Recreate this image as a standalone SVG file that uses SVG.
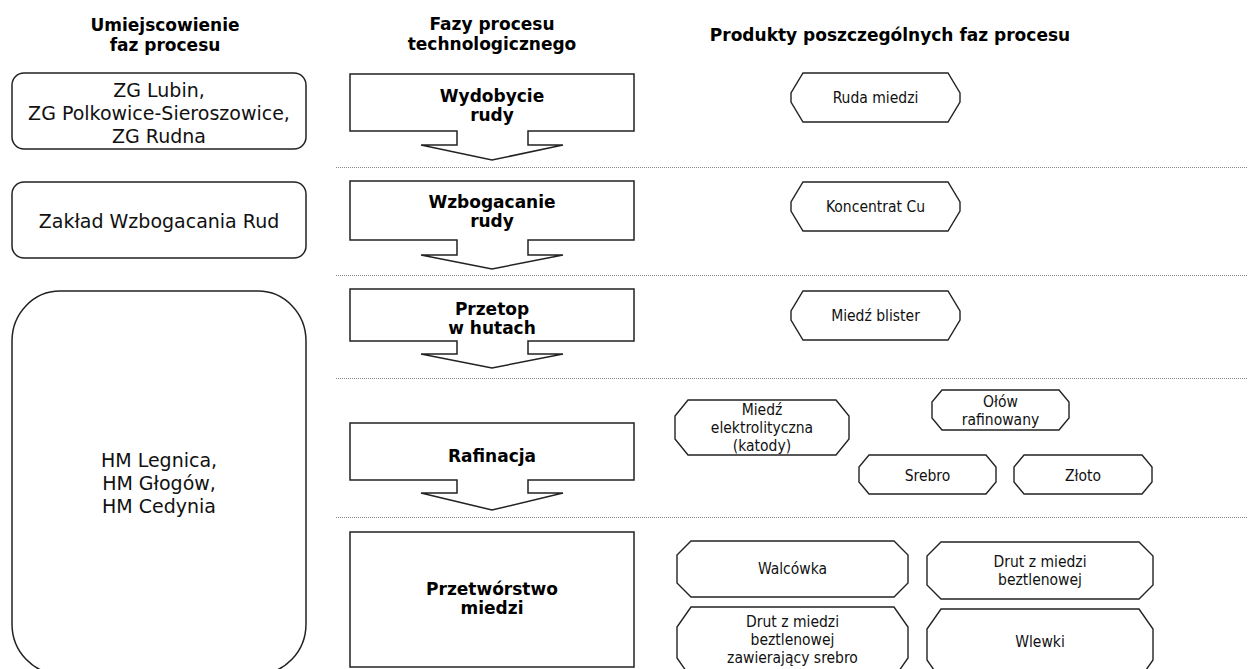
<svg xmlns="http://www.w3.org/2000/svg" width="1248" height="669" viewBox="0 0 1248 669">
<style>
.hdr{font-family:"DejaVu Sans",Verdana,sans-serif;font-weight:bold;font-size:17px;fill:#000;text-anchor:middle}
.loc{font-family:"DejaVu Sans",Verdana,sans-serif;font-size:19px;fill:#111;text-anchor:middle}
.ph{font-family:"DejaVu Sans",Verdana,sans-serif;font-weight:bold;font-size:17px;fill:#000;text-anchor:middle}
.pr{font-family:"DejaVu Sans Condensed","Liberation Sans",sans-serif;font-size:15.5px;fill:#111;text-anchor:middle}
.box{fill:#fff;stroke:#222;stroke-width:1.5}
.oct{fill:#fff;stroke:#222;stroke-width:1.4}
.sep{stroke:#888;stroke-width:1;stroke-dasharray:1 1;fill:none}
</style>
<rect width="1248" height="669" fill="#fff"/>
<g id="headers">
<text class="hdr" x="165" y="31">Umiejscowienie</text>
<text class="hdr" x="165" y="51">faz procesu</text>
<text class="hdr" x="492" y="30">Fazy procesu</text>
<text class="hdr" x="492" y="49.5">technologicznego</text>
<text class="hdr" x="890" y="41">Produkty poszczególnych faz procesu</text>
</g>
<g id="separators">
<line class="sep" x1="336" y1="167.5" x2="1248" y2="167.5"/>
<line class="sep" x1="336" y1="275.5" x2="1248" y2="275.5"/>
<line class="sep" x1="336" y1="378.5" x2="1248" y2="378.5"/>
<line class="sep" x1="336" y1="517.5" x2="1248" y2="517.5"/>
</g>
<g id="loc-zg">
<rect class="box" x="12" y="73" width="294" height="76" rx="12"/>
<text class="loc" x="159" y="97">ZG Lubin,</text>
<text class="loc" x="159" y="120">ZG Polkowice-Sieroszowice,</text>
<text class="loc" x="159" y="143">ZG Rudna</text>
</g>
<g id="loc-zwr">
<rect class="box" x="12" y="182" width="294" height="76" rx="12"/>
<text class="loc" x="159" y="228">Zakład Wzbogacania Rud</text>
</g>
<g id="loc-hm">
<rect class="box" x="12" y="291" width="294" height="383" rx="48" ry="50"/>
<text class="loc" x="159" y="467">HM Legnica,</text>
<text class="loc" x="159" y="490">HM Głogów,</text>
<text class="loc" x="159" y="513">HM Cedynia</text>
</g>
<g id="phase-wydobycie">
<path class="box" d="M350,74 H634 V131 H528 V145 H563 L492,160 L421,145 H457 V131 H350 Z"/>
<text class="ph" x="492" y="102">Wydobycie</text>
<text class="ph" x="492" y="121">rudy</text>
</g>
<g id="phase-wzbogacanie">
<path class="box" d="M350,181 H634 V240 H528 V255 H563 L492,269 L421,255 H457 V240 H350 Z"/>
<text class="ph" x="492" y="208">Wzbogacanie</text>
<text class="ph" x="492" y="227">rudy</text>
</g>
<g id="phase-przetop">
<path class="box" d="M350,289 H634 V341 H528 V354 H563 L492,368 L421,354 H457 V341 H350 Z"/>
<text class="ph" x="492" y="315">Przetop</text>
<text class="ph" x="492" y="334">w hutach</text>
</g>
<g id="phase-rafinacja">
<path class="box" d="M350,423 H634 V480 H528 V493 H563 L492,510 L421,493 H457 V480 H350 Z"/>
<text class="ph" x="492" y="462">Rafinacja</text>
</g>
<g id="phase-przetworstwo">
<rect class="box" x="350" y="532" width="284" height="135"/>
<text class="ph" x="492" y="595">Przetwórstwo</text>
<text class="ph" x="492" y="614">miedzi</text>
</g>
<g id="prod-ruda">
<path class="oct" d="M803,73 H948 L960,93 V102 L948,122 H803 L791,102 V93 Z"/>
<text class="pr" x="875.5" y="103">Ruda miedzi</text>
</g>
<g id="prod-koncentrat">
<path class="oct" d="M803,182 H948 L960,202 V211 L948,231 H803 L791,211 V202 Z"/>
<text class="pr" x="875.5" y="212">Koncentrat Cu</text>
</g>
<g id="prod-blister">
<path class="oct" d="M803,291 H948 L960,311 V320 L948,340 H803 L791,320 V311 Z"/>
<text class="pr" x="875.5" y="321">Miedź blister</text>
</g>
<g id="prod-katody">
<path class="oct" d="M688,400 H836 L849,416 V439 L836,455 H688 L675,439 V416 Z"/>
<text class="pr" x="762" y="415">Miedź</text>
<text class="pr" x="762" y="433">elektrolityczna</text>
<text class="pr" x="762" y="451">(katody)</text>
</g>
<g id="prod-olow">
<path class="oct" d="M942,390 H1059 L1069,402 V418 L1059,430 H942 L932,418 V402 Z"/>
<text class="pr" x="1000.5" y="407">Ołów</text>
<text class="pr" x="1000.5" y="425">rafinowany</text>
</g>
<g id="prod-srebro">
<path class="oct" d="M869,455 H986 L996,467 V482 L986,494 H869 L859,482 V467 Z"/>
<text class="pr" x="927.5" y="481">Srebro</text>
</g>
<g id="prod-zloto">
<path class="oct" d="M1024,455 H1142 L1152,467 V482 L1142,494 H1024 L1014,482 V467 Z"/>
<text class="pr" x="1083" y="481">Złoto</text>
</g>
<g id="prod-walcowka">
<path class="oct" d="M691,541 H894 L908,555 V583 L894,597 H691 L677,583 V555 Z"/>
<text class="pr" x="792.5" y="574">Walcówka</text>
</g>
<g id="prod-drut">
<path class="oct" d="M941,542 H1139 L1153,556 V585 L1139,599 H941 L927,585 V556 Z"/>
<text class="pr" x="1040" y="567">Drut z miedzi</text>
<text class="pr" x="1040" y="585">beztlenowej</text>
</g>
<g id="prod-drut-ag">
<path class="oct" d="M691,607 H894 L908,627 V658 L894,678 H691 L677,658 V627 Z"/>
<text class="pr" x="792.5" y="627">Drut z miedzi</text>
<text class="pr" x="792.5" y="645">beztlenowej</text>
<text class="pr" x="792.5" y="663">zawierający srebro</text>
</g>
<g id="prod-wlewki">
<path class="oct" d="M941,609 H1139 L1153,629 V660 L1139,680 H941 L927,660 V629 Z"/>
<text class="pr" x="1040" y="647">Wlewki</text>
</g>
</svg>
